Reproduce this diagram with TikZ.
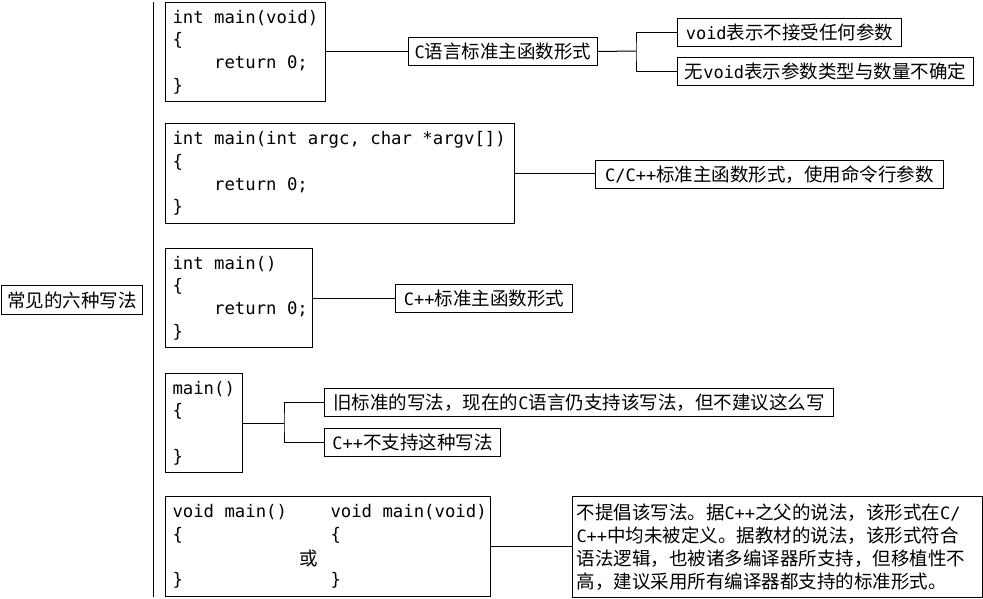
\documentclass[tikz,border=0pt]{standalone}
\usepackage{fontspec}
\newfontfamily\cjk{Noto Sans CJK SC}
\newfontfamily\code{DejaVu Sans Mono}[WordSpace={1,0,0}]
\newcommand\cv[1]{{\code\fontsize{17}{23}\selectfont #1}}
\begin{document}
\begin{tikzpicture}[x=1pt,y=1pt,line width=1pt,
  box/.style={draw,line width=1pt,rectangle,inner sep=0pt},
  codebox/.style={box,anchor=north west},
  codetext/.style={inner sep=0pt,anchor=west,align=left,font=\code\fontsize{17.3}{22.7}\selectfont},
  lbl/.style={box,anchor=north west,font=\cjk\fontsize{18.5}{23}\selectfont,minimum height=28pt},
  conn/.style={line width=1pt}]
\useasboundingbox (0,0) rectangle (983,-599);
% root
\node[lbl,minimum width=141pt,minimum height=29pt] (root) at (1,-285) {常见的六种写法};
\draw[conn] (153,-2) -- (153,-597);
% code boxes
\node[codebox,minimum width=160pt,minimum height=99pt] (c1) at (165,-2) {};
\node[codetext] (c1t) at ([xshift=7pt]c1.west) {int main(void)\\\{\\\phantom{0000}return 0;\\\}};
\node[codebox,minimum width=349pt,minimum height=100pt] (c2) at (165,-123) {};
\node[codetext] (c2t) at ([xshift=7pt]c2.west) {int main(int argc, char *argv[])\\\{\\\phantom{0000}return 0;\\\}};
\node[codebox,minimum width=147pt,minimum height=99pt] (c3) at (165,-248) {};
\node[codetext] (c3t) at ([xshift=7pt]c3.west) {int main()\\\{\\\phantom{0000}return 0;\\\}};
\node[codebox,minimum width=77pt,minimum height=99pt] (c4) at (165,-373) {};
\node[codetext] (c4t) at ([xshift=7pt]c4.west) {main()\\\{\\~\\\}};
\node[codebox,minimum width=325pt,minimum height=100pt] (c5) at (165,-496) {};
\node[codetext] (c5a) at ([xshift=7pt]c5.west) {void main()\\\{\\~\\\}};
\node[codetext] (c5b) at ([xshift=165pt]c5.west) {void main(void)\\\{\\~\\\}};
\node[inner sep=0pt,font=\cjk\fontsize{18.5}{23}\selectfont] (huo) at (309,-558) {或};
% labels
\node[lbl,minimum width=189pt] (l1) at (408,-37) {\cv{C}语言标准主函数形式};
\node[lbl,minimum width=224pt] (v1) at (677,-18) {\cv{void}表示不接受任何参数};
\node[lbl,minimum width=296pt] (v2) at (677,-57) {无\cv{void}表示参数类型与数量不确定};
\node[lbl,minimum width=348pt] (l2) at (595,-160) {\cv{C/C++}标准主函数形式，使用命令行参数};
\node[lbl,minimum width=177pt] (l3) at (395,-284) {\cv{C++}标准主函数形式};
\node[lbl,minimum width=509pt] (o1) at (324,-388) {旧标准的写法，现在的\cv{C}语言仍支持该写法，但不建议这么写};
\node[lbl,minimum width=176pt] (o2) at (324,-428) {\cv{C++}不支持这种写法};
\node[lbl,minimum width=410pt,minimum height=101pt,align=left,text width=402pt,inner xsep=4pt] (note) at (572,-496)
  {不提倡该写法。据\cv{C++}之父的说法，该形式在\cv{C/}\\
   \cv{C++}中均未被定义。据教材的说法，该形式符合\\
   语法逻辑，也被诸多编译器所支持，但移植性不\\
   高，建议采用所有编译器都支持的标准形式。};
% connectors
\coordinate (b1) at (636,-51);
\coordinate (b2) at (284,-423);
\draw[conn] (c1.east) -- (c1.east -| l1.west);
\draw[conn] (l1.east) -- (b1);
\draw[conn] (v1.west) -| (b1) |- (v2.west);
\draw[conn] (c2.east) -- (c2.east -| l2.west);
\draw[conn] (c3.east) -- (c3.east -| l3.west);
\draw[conn] (c4.east) -- (b2);
\draw[conn] (o1.west) -| (b2) |- (o2.west);
\draw[conn] (c5.east) -- (c5.east -| note.west);
\end{tikzpicture}
\end{document}
